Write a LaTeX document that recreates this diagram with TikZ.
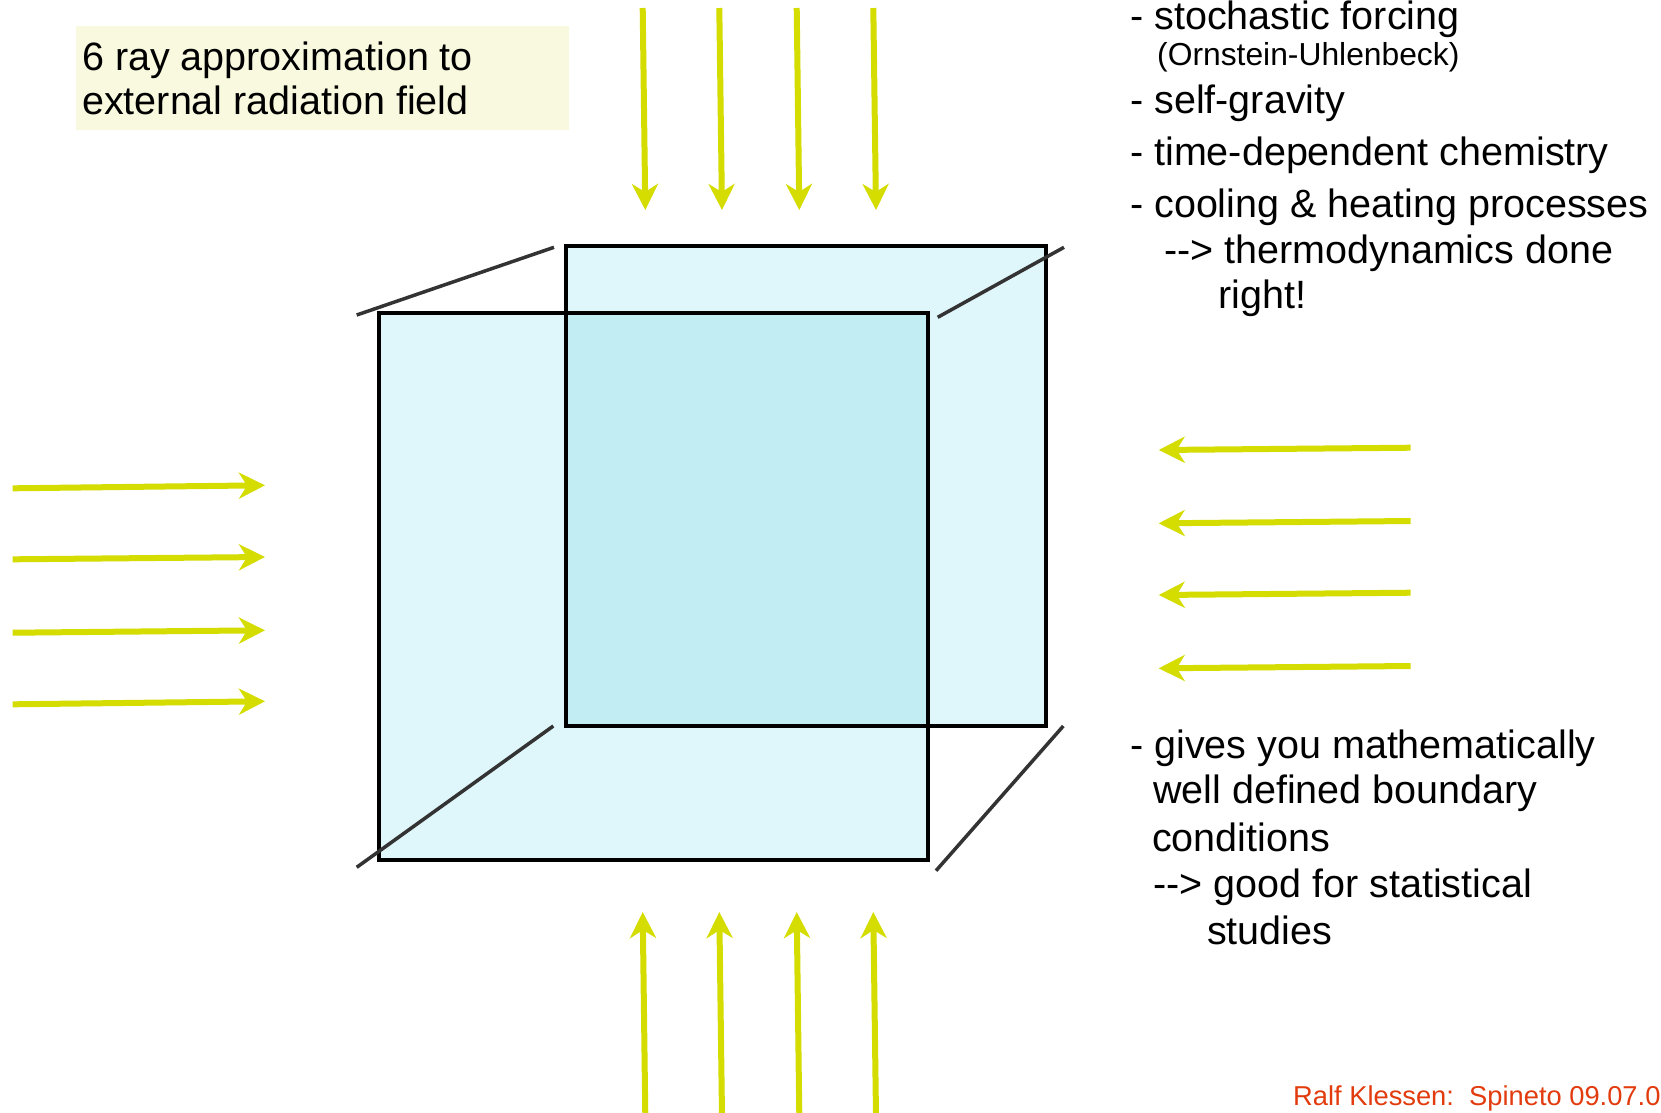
\documentclass[tikz,border=0pt]{standalone}
\usepackage{fontspec}
\setmainfont{Liberation Sans}
\usetikzlibrary{arrows.meta}
\definecolor{rayc}{RGB}{212,220,0}
\definecolor{lightc}{RGB}{223,246,250}
\definecolor{darkc}{RGB}{194,237,243}
\definecolor{boxy}{RGB}{248,249,222}
\definecolor{edgegray}{RGB}{51,51,51}
\definecolor{footred}{RGB}{226,59,14}
\begin{document}
\begin{tikzpicture}[x=1pt,y=-1pt,
  rayarrow/.style={draw=rayc, line width=6pt, -{Stealth[length=26pt,width=26pt,inset=8pt]}},
  facebox/.style={draw=black, line width=4pt},
  cubeedge/.style={draw=edgegray, line width=3.5pt},
  bigtxt/.style={anchor=base west, inner sep=0pt, font=\fontsize{39.5}{45}\selectfont},
  smalltxt/.style={anchor=base west, inner sep=0pt, font=\fontsize{31.8}{36}\selectfont},
  foottxt/.style={anchor=base west, inner sep=0pt, text=footred, font=\fontsize{27.3}{31}\selectfont}]
\useasboundingbox (0,0) rectangle (1661,1112);
\fill[white] (0,0) rectangle (1661,1112);

% label box
\fill[boxy] (76,26) rectangle (569,130);
\node[bigtxt] (lab1) at (82,70) {6 ray approximation to};
\node[bigtxt] (lab2) at (82,114) {external radiation field};

% cube faces
\coordinate (bk1) at (566,246);
\coordinate (bk2) at (1046,726);
\coordinate (fr1) at (379,313);
\coordinate (fr2) at (928,860);
\fill[lightc] (bk1) rectangle (bk2);
\fill[lightc] (fr1) rectangle (fr2);
\fill[darkc] (566,313) rectangle (928,726);
\draw[facebox] (bk1) rectangle (bk2);
\draw[facebox] (fr1) rectangle (fr2);

% cube edges
\coordinate (e1a) at (356.7,315); \coordinate (e1b) at (554,247.3);
\coordinate (e2a) at (937.7,317.3); \coordinate (e2b) at (1064,247.3);
\coordinate (e3a) at (356.7,867.3); \coordinate (e3b) at (553.3,726);
\coordinate (e4a) at (936,870.7); \coordinate (e4b) at (1063.3,726);
\draw[cubeedge] (e1a) -- (e1b);
\draw[cubeedge] (e2a) -- (e2b);
\draw[cubeedge] (e3a) -- (e3b);
\draw[cubeedge] (e4a) -- (e4b);

% top rays
\foreach \i/\xa/\xb in {1/642.7/645.3, 2/719.3/722, 3/796.7/799.3, 4/873.3/876}{
  \coordinate (ts\i) at (\xa,8);
  \coordinate (tt\i) at (\xb,210);
  \draw[rayarrow] (ts\i) -- (tt\i);
}
% bottom rays
\foreach \i/\xa/\xb in {1/642.7/645.3, 2/719.3/722, 3/796.7/799.3, 4/873.3/876}{
  \coordinate (bs\i) at (\xb,1116);
  \coordinate (bt\i) at (\xa,912);
  \draw[rayarrow] (bs\i) -- (bt\i);
}
% left rays
\foreach \i/\ya/\yb in {1/488.3/485.3, 2/559.3/557, 3/632.7/630.3, 4/704.3/701.3}{
  \coordinate (ls\i) at (12.7,\ya);
  \coordinate (lt\i) at (265,\yb);
  \draw[rayarrow] (ls\i) -- (lt\i);
}
% right rays
\foreach \i/\ya/\yb in {1/447.7/450, 2/521/523.3, 3/592.7/595, 4/666/668.3}{
  \coordinate (rs\i) at (1410.7,\ya);
  \coordinate (rt\i) at (1158.7,\yb);
  \draw[rayarrow] (rs\i) -- (rt\i);
}

% upper right text
\node[bigtxt] (u1) at (1130,29) {- stochastic forcing};
\node[smalltxt] (u2) at (1157,65) {(Ornstein-Uhlenbeck)};
\node[bigtxt] (u3) at (1130,113) {- self-gravity};
\node[bigtxt] (u4) at (1130,165) {- time-dependent chemistry};
\node[bigtxt] (u5) at (1130,217) {- cooling \& heating processes};
\node[bigtxt] (u6) at (1164,263) {-{}-> thermodynamics done};
\node[bigtxt] (u7) at (1218,308) {right!};

% lower right text
\node[bigtxt] (d1) at (1130,758) {- gives you mathematically};
\node[bigtxt] (d2) at (1153,803) {well defined boundary};
\node[bigtxt] (d3) at (1152,851) {conditions};
\node[bigtxt] (d4) at (1153,897) {-{}-> good for statistical};
\node[bigtxt] (d5) at (1207,944) {studies};

% footer
\node[foottxt] (foot) at (1293,1105) {Ralf Klessen:\ \ Spineto 09.07.0};
\end{tikzpicture}
\end{document}
